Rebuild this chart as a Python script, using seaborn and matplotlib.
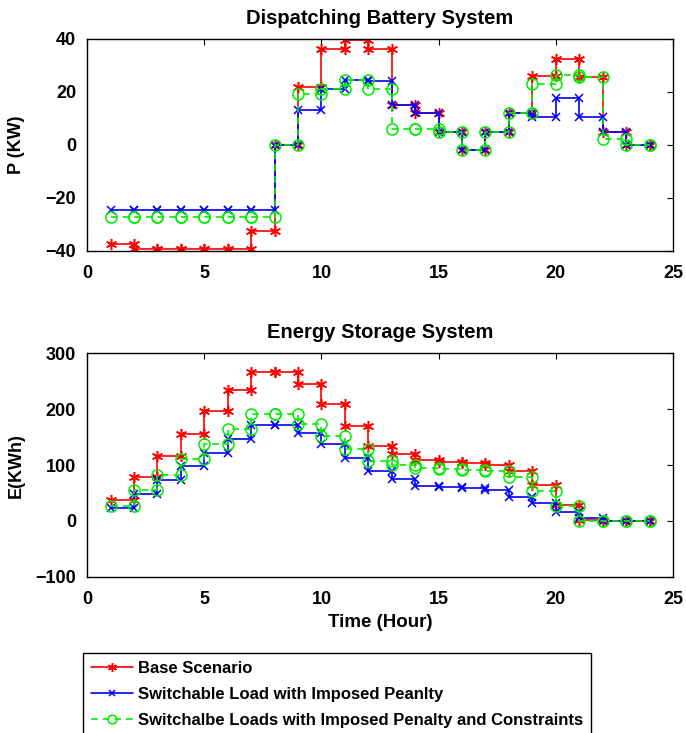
# Battery dispatch and stored energy for three scenarios
import numpy as np
import seaborn as sns
import matplotlib.pyplot as plt

hours = np.arange(1, 25)

# Dispatching power (KW), value held over [h, h+1)
p_base = [-37.5, -39.5, -39.5, -39.5, -39.5, -39.5, -32.5, 0, 22, 36, 39.5, 36,
          15, 12, 5, -2, 5, 12, 26, 32.5, 25.5, 5, 0, 0]
p_switch = [-24.5, -24.5, -24.5, -24.5, -24.5, -24.5, -24.5, 0, 13, 21, 24.5, 24,
            15, 12, 5, -2, 5, 12, 10.5, 17.5, 10.5, 5, 0, 0]
p_constr = [-27.3, -27.3, -27.3, -27.3, -27.3, -27.3, -27.3, 0, 19.3, 21, 24.5, 21,
            6, 6, 5, -2, 5, 12, 23, 26.5, 25.5, 2, 0, 0]

# Stored energy (KWh)
e_base = [37.5, 78.6, 116, 156, 196, 234, 267, 267, 245, 210, 170, 134,
          119, 109, 106, 104, 99.5, 89, 64, 29, 2, 0, 0, 0]
e_switch = [24, 49, 73, 98, 122, 147, 171, 171, 158, 137, 113, 89,
            74.5, 62.5, 60, 59, 55, 43.5, 33, 16, 5, 0, 0, 0]
e_constr = [27, 55, 83, 110, 137, 165, 192, 192, 173, 152, 128, 107,
            101, 95, 92.5, 91.5, 90, 78, 54, 27, 0, 0, 0, 0]

labels = ['Base Scenario',
          'Switchable Load with Imposed Peanlty',
          'Switchalbe Loads with Imposed Penalty and Constraints']

sns.set_style('white')
plt.rcParams['font.family'] = ['Liberation Sans', 'DejaVu Sans']
plt.rcParams['font.weight'] = 'bold'
plt.rcParams['axes.labelweight'] = 'bold'
plt.rcParams['axes.titleweight'] = 'bold'
plt.rcParams['text.color'] = 'black'
plt.rcParams['axes.labelcolor'] = 'black'
plt.rcParams['xtick.color'] = 'black'
plt.rcParams['ytick.color'] = 'black'
plt.rcParams['xtick.direction'] = 'in'
plt.rcParams['ytick.direction'] = 'in'
plt.rcParams['xtick.top'] = True
plt.rcParams['ytick.right'] = True


def stairs(y):
    # MATLAB-like stairs vertices, markers land on every corner
    xs = np.repeat(hours, 2)[1:]
    ys = np.repeat(np.asarray(y, dtype=float), 2)[:-1]
    return xs, ys


styles = [
    dict(color='#ff0000', marker=(6, 2, 0), linestyle='-', markersize=8),
    dict(color='#0000ff', marker='x', linestyle='-', markersize=6),
    dict(color='#00ee00', marker='o', linestyle=(0, (4, 3)), markersize=8,
         markerfacecolor='none'),
]

fig = plt.figure(figsize=(6.86, 7.33), dpi=100)
ax1 = fig.add_axes([0.127, 0.658, 0.854, 0.289])
ax2 = fig.add_axes([0.127, 0.213, 0.854, 0.305])

for ax, series in [(ax1, [p_base, p_switch, p_constr]),
                   (ax2, [e_base, e_switch, e_constr])]:
    for y, st in zip(series, styles):
        xs, ys = stairs(y)
        sns.lineplot(x=xs, y=ys, ax=ax, sort=False, estimator=None,
                     linewidth=1.2, markeredgecolor=st['color'],
                     markeredgewidth=1.1, **st)
    ax.set_xlim(0, 25)
    ax.set_xticks(range(0, 26, 5))
    ax.tick_params(labelsize=13, length=4, width=0.8, pad=8)
    ax.tick_params(axis='x', pad=10)
    for sp in ax.spines.values():
        sp.set_color('black')
        sp.set_linewidth(1.0)
    for lab in ax.get_xticklabels():
        lab.set_fontweight('bold')

ax1.set_ylim(-40, 40)
ax1.set_yticks([-40, -20, 0, 20, 40])
ax1.set_yticklabels(['\u221240', '\u221220', '0', '20', '40'], fontweight='bold')
ax1.set_title('Dispatching Battery System', fontsize=14.5, fontweight='bold', pad=11)
ax1.set_ylabel('P (KW)', fontsize=13, fontweight='bold')

ax2.set_ylim(-100, 300)
ax2.set_yticks([-100, 0, 100, 200, 300])
ax2.set_yticklabels(['\u2212100', '0', '100', '200', '300'], fontweight='bold')
ax2.set_title('Energy Storage System', fontsize=14.5, fontweight='bold', pad=11)
ax2.set_ylabel('E(KWh)', fontsize=13, fontweight='bold')
ax2.set_xlabel('Time (Hour)', fontsize=13.5, fontweight='bold')

for ax in (ax1, ax2):
    ax.yaxis.set_label_coords(-0.106, 0.5)
ax2.xaxis.set_label_coords(0.5, -0.165)

handles = ax2.lines[:3]
leg = fig.legend(handles, labels, loc='upper left',
                 bbox_to_anchor=(83 / 686, 1 - 653 / 733), borderaxespad=0,
                 fancybox=False, edgecolor='black', framealpha=1,
                 prop={'size': 12, 'weight': 'bold'}, handlelength=2.5,
                 handletextpad=0.3, labelspacing=0.66, borderpad=0.5,
                 markerscale=0.8)
leg.get_frame().set_linewidth(1.0)

fig.savefig('out.png', dpi=100)
